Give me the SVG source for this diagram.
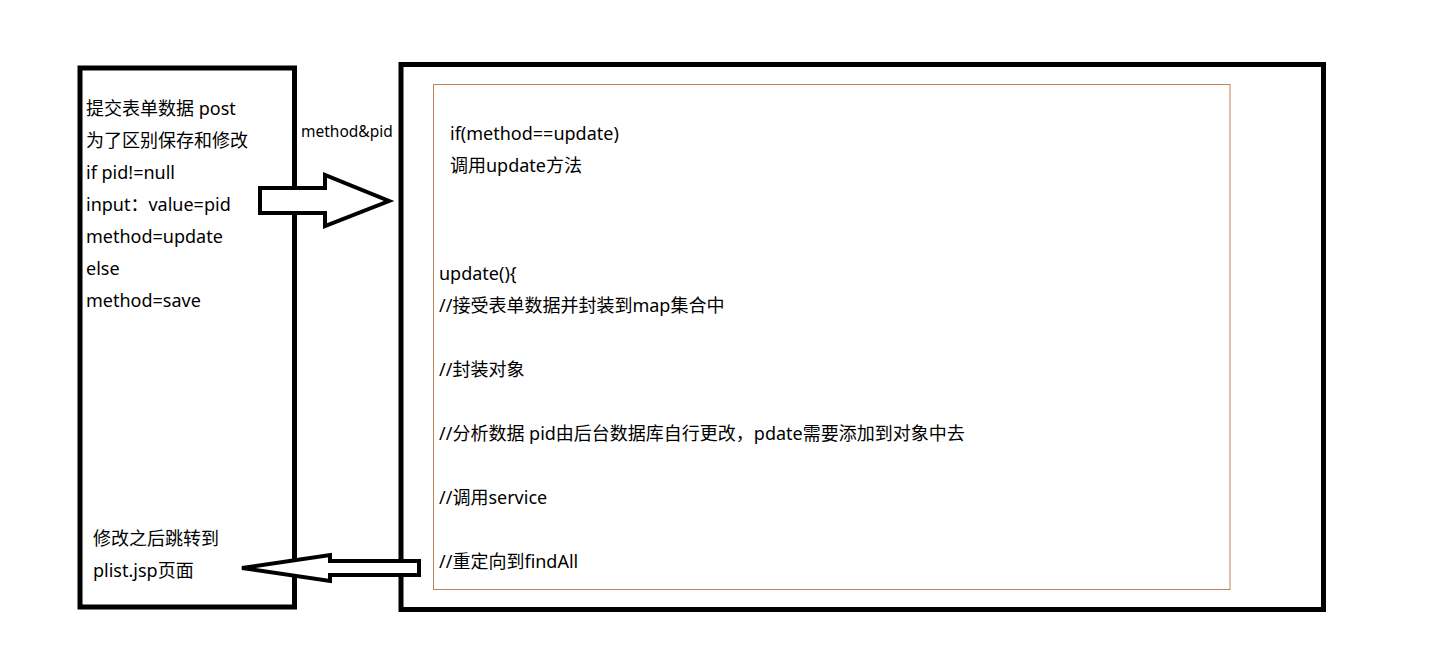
<svg xmlns="http://www.w3.org/2000/svg" width="1437" height="660" viewBox="0 0 1437 660">
<style>
.box{fill:none;stroke:#000;stroke-width:5}
.inner{fill:none;stroke:#c0825a;stroke-width:1}
.arrow{fill:#fff;stroke:#000;stroke-width:4;stroke-linejoin:miter}
text{font-family:"Noto Sans","Noto Sans CJK SC",sans-serif;font-size:18px;fill:#000}
.small{font-size:15.5px}
</style>
<rect width="1437" height="660" fill="#fff"/>
<g id="left-box">
<rect class="box" x="80" y="68" width="214.5" height="539"/>
<text x="86" y="115">提交表单数据 post</text>
<text x="86" y="147">为了区别保存和修改</text>
<text x="86" y="179">if pid!=null</text>
<text x="86" y="211">input：value=pid</text>
<text x="86" y="243">method=update</text>
<text x="86" y="275">else</text>
<text x="86" y="307">method=save</text>
<text x="93" y="545">修改之后跳转到</text>
<text x="93" y="577">plist.jsp页面</text>
</g>
<g id="right-box">
<rect class="box" x="401" y="64.5" width="922.5" height="545"/>
<rect class="inner" x="433.5" y="84.5" width="796.5" height="505"/>
<text x="450" y="140">if(method==update)</text>
<text x="450" y="172">调用update方法</text>
<text x="439" y="280">update(){</text>
<text x="439" y="312">//接受表单数据并封装到map集合中</text>
<text x="439" y="376">//封装对象</text>
<text x="439" y="440">//分析数据 pid由后台数据库自行更改，pdate需要添加到对象中去</text>
<text x="439" y="504">//调用service</text>
<text x="439" y="568">//重定向到findAll</text>
</g>
<g id="connectors">
<path class="arrow" d="M260,188 L325,188 L325,175 L389,201 L325,226 L325,213 L260,213 Z"/>
<text class="small" x="301" y="137">method&amp;pid</text>
<path class="arrow" d="M419,561 L330,561 L330,555 L242,568 L330,581 L330,575 L419,575 Z"/>
</g>
</svg>
